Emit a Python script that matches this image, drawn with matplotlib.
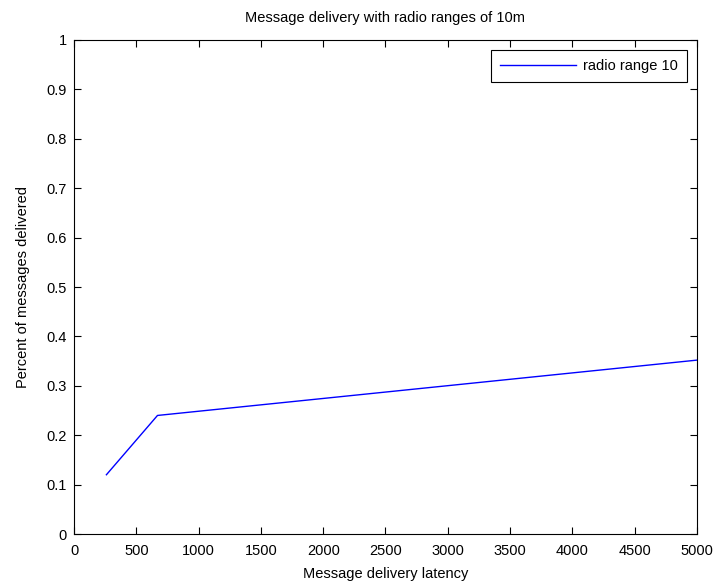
import matplotlib
matplotlib.use("Agg")
import matplotlib.pyplot as plt

latency = [260, 670, 5000]
delivered = [0.12, 0.24, 0.352]
series_label = "radio range 10"
xticks = [0, 500, 1000, 1500, 2000, 2500, 3000, 3500, 4000, 4500, 5000]
yticks = [0, 0.1, 0.2, 0.3, 0.4, 0.5, 0.6, 0.7, 0.8, 0.9, 1]

plt.rcParams['font.family'] = ['Liberation Sans', 'DejaVu Sans']
fs = 10.5
fig = plt.figure(figsize=(7.2, 5.88), dpi=100)
ax = fig.add_axes([0.1028, 0.0918, 0.8652, 0.8402])
ax.plot(latency, delivered, color='#0000ff', lw=1.0, label=series_label)
ax.set_xlim(0, 5000)
ax.set_ylim(0, 1)
ax.set_xticks(xticks)
ax.set_xticklabels([str(v) for v in xticks])
ax.set_yticks(yticks)
ax.set_yticklabels(['0'] + [f'{v:g}' for v in yticks[1:]])
ax.tick_params(direction='in', top=True, right=True, labelsize=fs, length=5, width=0.8)
ax.tick_params(axis='x', pad=7)
ax.tick_params(axis='y', pad=5)
for s in ax.spines.values():
    s.set_linewidth(0.8)
ax.set_title('Message delivery with radio ranges of 10m', fontsize=fs, pad=13)
ax.set_xlabel('Message delivery latency', fontsize=fs, labelpad=7)
ax.set_ylabel('Percent of messages delivered', fontsize=fs, labelpad=12)
leg = ax.legend(loc='upper right', fontsize=fs, fancybox=False, framealpha=1,
                edgecolor='black', handlelength=5.2, handletextpad=0.5,
                borderpad=0.6, borderaxespad=0.7)
leg.get_frame().set_linewidth(0.8)
fig.savefig('out.png', dpi=100)
